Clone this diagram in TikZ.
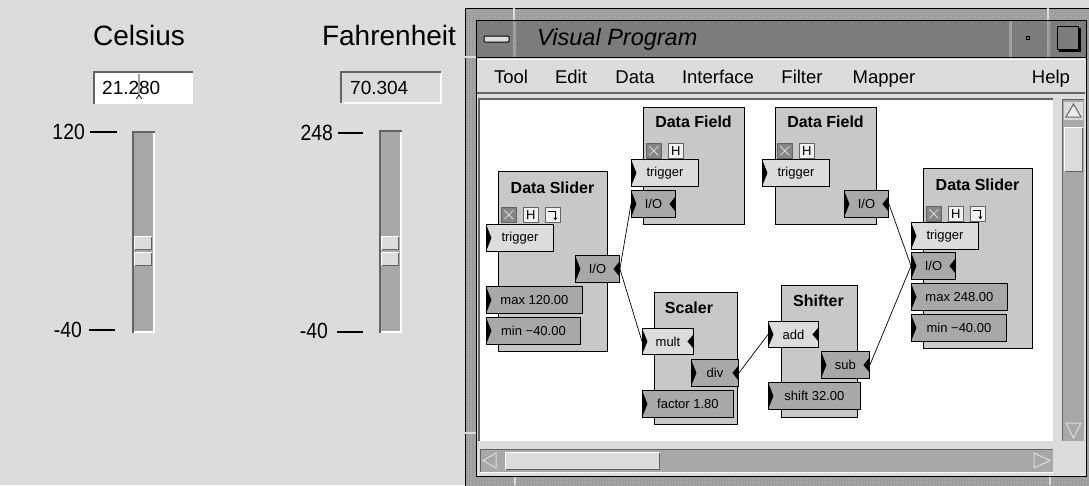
\documentclass[tikz,border=0pt]{standalone}
\usepackage{fontspec}
\setmainfont{Liberation Sans}
\newfontfamily\etroit[FakeStretch=0.88]{Liberation Sans}
\usetikzlibrary{patterns,arrows.meta}
\definecolor{fond}{HTML}{DCDCDC}
\definecolor{rail}{HTML}{A8A8A8}
\definecolor{ombre}{HTML}{646464}
\definecolor{module}{HTML}{C8C8C8}
\definecolor{barre}{HTML}{7C7C7C}
\definecolor{cadre}{HTML}{9C9C9C}
\newcommand{\taille}[1]{\fontsize{#1}{#1}\selectfont}

\begin{document}
\begin{tikzpicture}[x=1pt,y=-1pt,
  bloc/.style={draw=black, fill=module, line width=0.9pt, anchor=north west, inner sep=0pt},
  port/.style={draw=black, line width=0.9pt, anchor=north west, inner sep=0pt, minimum height=27pt, font=\taille{13}},
  clair/.style={port, fill=fond},
  fonce/.style={port, fill=rail},
  entree/.style={path picture={\fill[black] ([yshift=-1pt]path picture bounding box.north west) -- ([xshift=5pt]path picture bounding box.west) -- ([yshift=1pt]path picture bounding box.south west) -- cycle;}},
  entsor/.style={path picture={
      \fill[black] ([yshift=-1pt]path picture bounding box.north west) -- ([xshift=5pt]path picture bounding box.west) -- ([yshift=1pt]path picture bounding box.south west) -- cycle;
      \fill[black] ([yshift=-6pt]path picture bounding box.north east) -- ([xshift=-6pt]path picture bounding box.east) -- ([yshift=6pt]path picture bounding box.south east) -- cycle;}},
  titrebloc/.style={font=\bfseries\taille{16}, inner sep=0pt, anchor=base},
  icone/.style={draw=ombre, line width=0.6pt, minimum size=15pt, inner sep=0pt, anchor=north west},
  icx/.style={icone, fill=rail!80!black, path picture={\draw[fond, line width=0.8pt] ([shift={(3pt,3pt)}]path picture bounding box.south west) -- ([shift={(-3pt,-3pt)}]path picture bounding box.north east) ([shift={(3pt,-3pt)}]path picture bounding box.north west) -- ([shift={(-3pt,3pt)}]path picture bounding box.south east);}},
  ich/.style={icone, fill=white!60!fond, font=\taille{13}},
  icf/.style={icone, fill=white!60!fond, path picture={\draw[black, line width=0.9pt, -{Stealth[length=3pt,width=4pt]}] ([shift={(3pt,-4pt)}]path picture bounding box.north west) -- ([shift={(-5pt,-4pt)}]path picture bounding box.north east) -- ([shift={(-5pt,2pt)}]path picture bounding box.south east);}},
  menu/.style={font=\taille{18.5}, anchor=base, inner sep=0pt},
  graduation/.style={font=\etroit\taille{22}, anchor=base east, inner sep=0pt},
  lien/.style={black, line width=0.7pt}]
    % fond gris
    \fill[fond] (0,0) rectangle (1089,485);
    \useasboundingbox (0,0) rectangle (1089,485);

    % Celsius
    \node[font=\taille{28}, anchor=base, inner sep=0pt] (celsius) at (139,45) {Celsius};
    \fill[white] (93,71) rectangle (193,104);
    \draw[ombre, line width=2pt] (94,104) -- (94,72) -- (193,72);
    \node[font=\taille{19}, anchor=base west, inner sep=0pt] (valc) at (102,94) {21.280};
    \draw[black, line width=0.7pt] (139,74) -- (139,96) (136,99) -- (139,95) -- (142,99);
    \fill[rail] (132,131) rectangle (155,333);
    \draw[white, line width=2pt] (133,332) -- (154,332) -- (154,131);
    \draw[ombre, line width=2pt] (133,333) -- (133,132) -- (155,132);
    \foreach \y in {236,252} {
      \fill[fond] (134,\y) rectangle (152,\y+14);
      \draw[white, line width=1pt] (134.5,\y+14) -- (134.5,\y+0.5) -- (152,\y+0.5);
      \draw[ombre, line width=1pt] (134.5,\y+13.5) -- (151.5,\y+13.5) -- (151.5,\y+0.5);
    }
    \node[graduation] (c120) at (85,139) {120};
    \draw[black, line width=1.3pt] (90,132) -- (117,132);
    \node[graduation] (cm40) at (82,337) {-40};
    \draw[black, line width=1.3pt] (89,330) -- (115,330);

    % Fahrenheit
    \node[font=\taille{28}, anchor=base, inner sep=0pt] (fahrenheit) at (389,45) {Fahrenheit};
    \draw[white, line width=2pt] (441,72) -- (441,103) -- (341,103);
    \draw[ombre, line width=2pt] (341,103) -- (341,72) -- (441,72);
    \node[font=\taille{19}, anchor=base west, inner sep=0pt] (valf) at (350,94) {70.304};
    \fill[rail] (379,130) rectangle (402,333);
    \draw[white, line width=2pt] (380,332) -- (401,332) -- (401,130);
    \draw[ombre, line width=2pt] (380,333) -- (380,131) -- (402,131);
    \foreach \y in {236,252} {
      \fill[fond] (381,\y) rectangle (399,\y+14);
      \draw[white, line width=1pt] (381.5,\y+14) -- (381.5,\y+0.5) -- (399,\y+0.5);
      \draw[ombre, line width=1pt] (381.5,\y+13.5) -- (398.5,\y+13.5) -- (398.5,\y+0.5);
    }
    \node[graduation] (f248) at (333,140) {248};
    \draw[black, line width=1.3pt] (338,133) -- (363,133);
    \node[graduation] (fm40) at (328,338) {-40};
    \draw[black, line width=1.3pt] (337,332) -- (363,332);

    % cadre de la fenetre
    \fill[cadre] (465,8) rectangle (1092,488);
    \fill[pattern=dots, pattern color=fond] (465,8) rectangle (1092,488);
    \draw[black, line width=1pt] (465.5,488) -- (465.5,8.5) -- (1092,8.5);
    \draw[fond, line width=1.5pt] (514,8) -- (514,20) (1048,8) -- (1048,20) (515,476) -- (515,485)
      (1050,476) -- (1050,485) (465,57) -- (476,57) (465,433) -- (476,433);
    \fill[fond] (476,20) rectangle (1086,476);
    \fill[barre] (476,20) rectangle (1086,57);
    \foreach \x in {513,1009,1047} {
      \fill[cadre] (\x,20) rectangle (\x+3,57);
      \fill[pattern=dots, pattern color=fond] (\x,20) rectangle (\x+3,57);
    }
    \draw[black, line width=1pt] (476,20) rectangle (1086,476);
    \draw[black, line width=1pt] (476,57) -- (1086,57);
    % barre de titre
    \draw[black, fill=fond, rounded corners=1pt, line width=1pt] (484,36) rectangle (509,42);
    \node[font=\itshape\taille{23.5}, anchor=base west, inner sep=0pt] (titre) at (537,45) {Visual Program};
    \draw[black, line width=1.2pt] (1026.5,36.5) rectangle (1029.5,39.5);
    \draw[black, line width=1pt] (1057,26) rectangle (1078,49);
    \draw[black, line width=2pt] (1080,28) -- (1080,51) -- (1059,51);
    % menu
    \draw[white, line width=1pt] (477,59) -- (1085,59);
    \draw[ombre, line width=2pt] (477,93) -- (1085,93);
    \foreach \x/\t in {511/Tool,571/Edit,635/Data,718/Interface,802/Filter,884/Mapper,1051/Help}
      \node[menu] (m\t) at (\x,83) {\t};

    % zone de travail
    \fill[white] (480,100) rectangle (1053,441);
    \draw[ombre, line width=2pt] (479,441) -- (479,99) -- (1053,99);
    % ascenseur vertical
    \fill[rail] (1062,99) rectangle (1084,441);
    \draw[ombre, line width=1.5pt] (1062.5,441) -- (1062.5,99.5) -- (1084,99.5);
    \fill[fond] (1064,102) rectangle (1083,120);
    \draw[ombre, fill=white!50!fond, line width=1pt] (1066,117) -- (1073.5,104) -- (1081,117) -- cycle;
    \fill[fond] (1064,127) rectangle (1083,172);
    \draw[white, line width=1.5pt] (1064.5,172) -- (1064.5,127.5) -- (1083,127.5);
    \draw[ombre, line width=1pt] (1064.5,171.5) -- (1082.5,171.5) -- (1082.5,128);
    \draw[fond, line width=1pt] (1066,423) -- (1081,423) -- (1073.5,438) -- cycle;
    % ascenseur horizontal
    \fill[rail] (480,449) rectangle (1053,472);
    \draw[ombre, line width=1.5pt] (480.5,472) -- (480.5,449.5) -- (1053,449.5);
    \draw[white, line width=1pt] (480,472.5) -- (1053,472.5);
    \draw[fond, line width=1pt] (496,453) -- (483,460.5) -- (496,468) -- cycle;
    \fill[fond] (505,452) rectangle (660,470);
    \draw[white, line width=1.5pt] (505.5,470) -- (505.5,452.5) -- (660,452.5);
    \draw[ombre, line width=1pt] (505.5,469.5) -- (659.5,469.5) -- (659.5,453);
    \draw[fond, line width=1pt] (1034,453) -- (1050,460.5) -- (1034,468) -- cycle;

    % modules
    \node[bloc, minimum width=109pt, minimum height=180pt] (ds1) at (498,171) {};
    \node[bloc, minimum width=101pt, minimum height=117pt] (df1) at (643,107) {};
    \node[bloc, minimum width=101pt, minimum height=117pt] (df2) at (775,107) {};
    \node[bloc, minimum width=83pt, minimum height=132pt] (sc) at (654,292) {};
    \node[bloc, minimum width=76pt, minimum height=132pt] (sh) at (781,285) {};
    \node[bloc, minimum width=109pt, minimum height=180pt] (ds2) at (923,168) {};
    \node[titrebloc] (ds1t) at (552.5,193) {Data Slider};
    \node[titrebloc] (df1t) at (693.5,127) {Data Field};
    \node[titrebloc] (df2t) at (825.5,127) {Data Field};
    \node[titrebloc] (sct) at (689,313) {Scaler};
    \node[titrebloc] (sht) at (818.5,306) {Shifter};
    \node[titrebloc] (ds2t) at (977.5,190) {Data Slider};
    % icones
    \node[icx] (ds1x) at (501,207) {};
    \node[ich] (ds1h) at (523,207) {H};
    \node[icf] (ds1f) at (545,207) {};
    \node[icx] (df1x) at (646,143) {};
    \node[ich] (df1h) at (668,143) {H};
    \node[icx] (df2x) at (777,143) {};
    \node[ich] (df2h) at (799,143) {H};
    \node[icx] (ds2x) at (926,206) {};
    \node[ich] (ds2h) at (948,206) {H};
    \node[icf] (ds2f) at (970,206) {};
    % ports
    \node[clair, entree, minimum width=67pt] (ds1trig) at (486,224) {trigger};
    \node[fonce, entsor, minimum width=44pt] (ds1io) at (575,255) {I/O};
    \node[fonce, entree, minimum width=96pt] (ds1max) at (486,286) {max 120.00};
    \node[fonce, entree, minimum width=94pt] (ds1min) at (486,317) {min −40.00};
    \node[clair, entree, minimum width=67pt] (df1trig) at (631,159) {trigger};
    \node[fonce, entsor, minimum width=44pt] (df1io) at (631,190) {I/O};
    \node[clair, entree, minimum width=67pt] (df2trig) at (762,159) {trigger};
    \node[fonce, entsor, minimum width=44pt] (df2io) at (844,190) {I/O};
    \node[clair, entsor, minimum width=51pt, minimum height=26pt] (scmult) at (642,328) {mult};
    \node[fonce, entsor, minimum width=47pt] (scdiv) at (691,359) {div};
    \node[fonce, entree, minimum width=91pt] (scfact) at (642,390) {factor 1.80};
    \node[clair, entsor, minimum width=50pt, minimum height=26pt] (shadd) at (768,321) {add};
    \node[fonce, entsor, minimum width=48pt] (shsub) at (821,351) {sub};
    \node[fonce, entree, minimum width=92pt] (shshift) at (768,382) {shift 32.00};
    \node[clair, entree, minimum width=67pt] (ds2trig) at (911,222) {trigger};
    \node[fonce, entsor, minimum width=44pt] (ds2io) at (911,252) {I/O};
    \node[fonce, entree, minimum width=96pt] (ds2max) at (911,283) {max 248.00};
    \node[fonce, entree, minimum width=95pt] (ds2min) at (911,314) {min −40.00};
    % liens
    \draw[lien] (ds1io.east) -- (df1io.west);
    \draw[lien] (ds1io.east) -- (scmult.west);
    \draw[lien] (scdiv.east) -- (shadd.west);
    \draw[lien] (df2io.east) -- (ds2io.west);
    \draw[lien] (shsub.east) -- (ds2io.west);
\end{tikzpicture}
\end{document}
